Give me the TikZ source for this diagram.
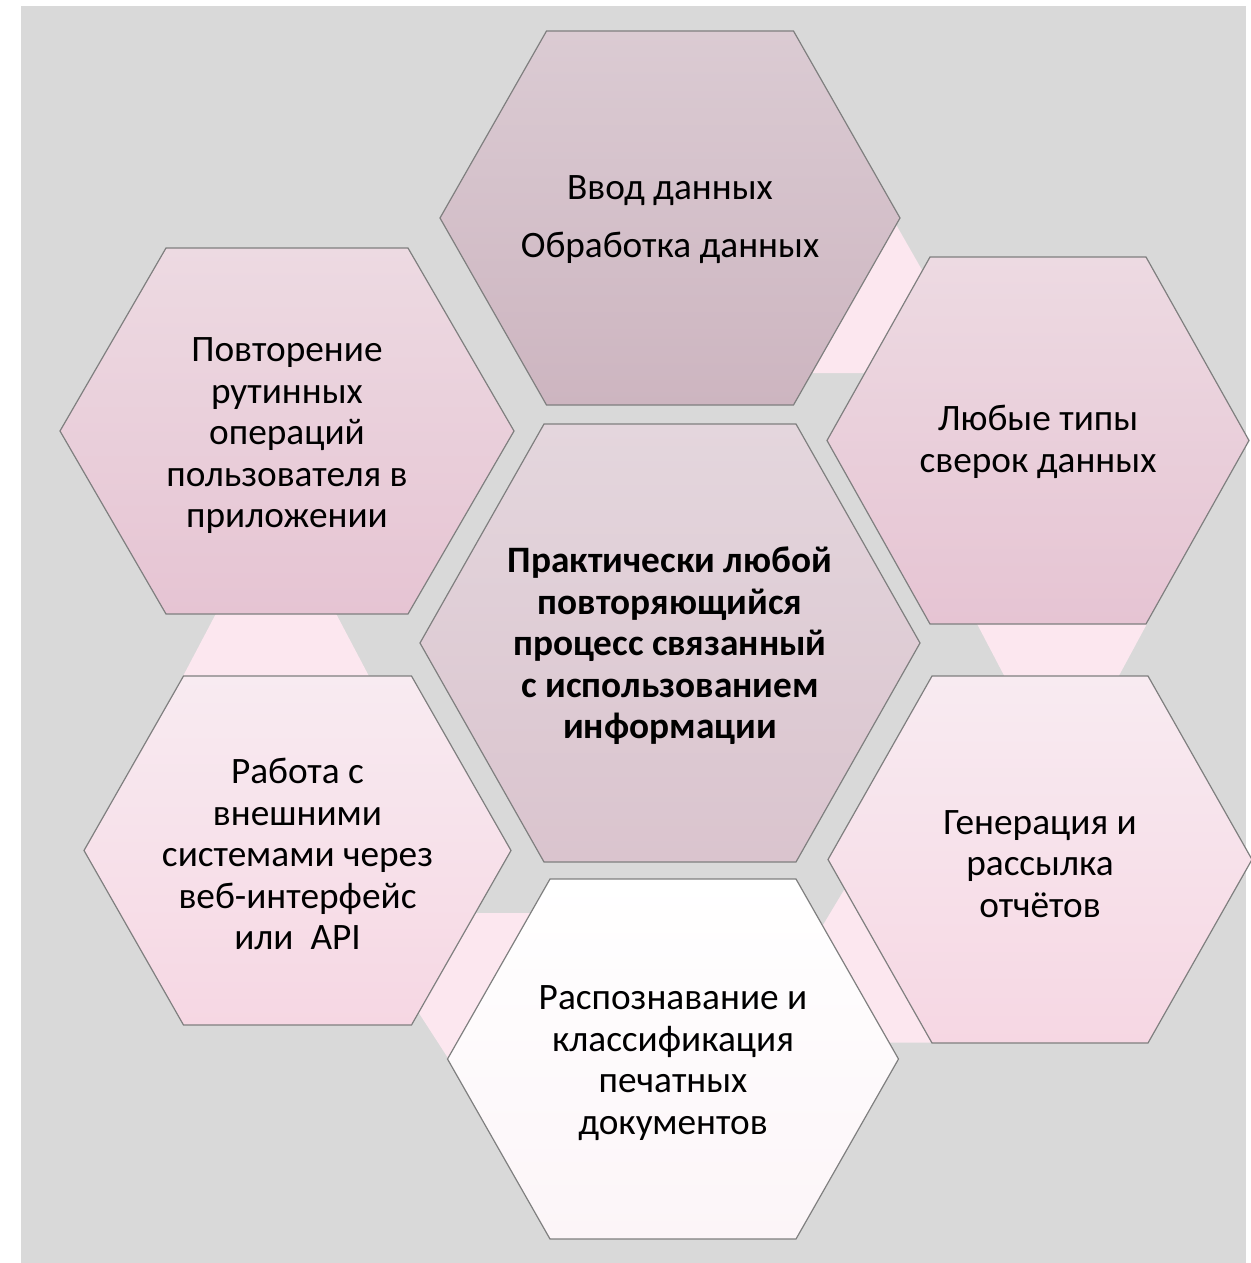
\documentclass[tikz,border=0pt]{standalone}
\usepackage{fontspec}
\setmainfont{Carlito}
\definecolor{bggray}{HTML}{D9D9D9}
\definecolor{hexgray}{HTML}{7F7F7F}
\definecolor{connpink}{HTML}{FCE7EF}
\definecolor{tTop}{HTML}{DBCBD3}
\definecolor{tBot}{HTML}{CDB5C0}
\definecolor{cTop}{HTML}{E4D6DD}
\definecolor{cBot}{HTML}{DAC4CE}
\definecolor{mTop}{HTML}{EDDAE2}
\definecolor{mBot}{HTML}{E6C4D3}
\definecolor{lTop}{HTML}{F8EBF1}
\definecolor{lBot}{HTML}{F6D7E3}
\definecolor{wTop}{HTML}{FFFFFF}
\definecolor{wBot}{HTML}{FCF5F8}
\tikzset{
  hexline/.style={draw=hexgray, line width=1.2pt, line join=miter},
  conn/.style={fill=connpink},
  txt/.style={align=center, font=\fontsize{37.3}{41.5}\selectfont, text=black, inner sep=0pt},
}
% cx cy halfTopEdge halfWidth halfHeight topcolor bottomcolor
\newcommand\hexshape[7]{%
  \path[hexline, top color=#6, bottom color=#7]
    (#1-#3,#2-#5) -- (#1+#3,#2-#5) -- (#1+#4,#2) -- (#1+#3,#2+#5)
    -- (#1-#3,#2+#5) -- (#1-#4,#2) -- cycle;}
\begin{document}
\begin{tikzpicture}[x=1pt,y=-1pt]
\useasboundingbox (0,0) rectangle (1250,1263);
\fill[bggray] (21,6) rectangle (1246,1263);
% connectors (partly hidden behind the hexagons)
\fill[conn] (840,200) -- (882,200) -- (942,305) -- (870,373) -- (800,373) -- cycle;
\fill[conn] (975,620) -- (1149,620) -- (1115,683) -- (1008,683) -- cycle;
\fill[conn] (220,606) -- (332,606) -- (371,680) -- (181,680) -- cycle;
\fill[conn] (470,913) -- (540,913) -- (520,1100) -- (459,1075) -- (404,990) -- cycle;
\fill[conn] (856,870) -- (808,950) -- (880,1042.5) -- (960,1042.5) -- (900,870) -- cycle;
% hexagons
\hexshape{670}{218}{123.5}{230}{187}{tTop}{tBot}
\hexshape{670}{643}{126}{250}{219}{cTop}{cBot}
\hexshape{287}{431}{121}{227}{183}{mTop}{mBot}
\hexshape{1038}{440.5}{108}{211}{183.5}{mTop}{mBot}
\hexshape{1040}{859.5}{108}{212}{183.5}{lTop}{lBot}
\hexshape{297.5}{850.5}{114}{213.5}{174.5}{lTop}{lBot}
\hexshape{673}{1059}{123}{225.5}{180}{wTop}{wBot}
% texts
\node[txt] (top) at (670,220) {Ввод данных\\[16.5pt]Обработка данных};
\node[txt, font=\fontsize{37.3}{41.5}\selectfont\bfseries] (center) at (670,646) {Практически любой\\повторяющийся\\процесс связанный\\с использованием\\информации};
\node[txt] (tl) at (287,436) {Повторение\\рутинных\\операций\\пользователя в\\приложении};
\node[txt] (rt) at (1038,442) {Любые типы\\сверок данных};
\node[txt] (br) at (1040,864) {Генерация и\\рассылка\\отчётов};
\node[txt] (bl) at (297.5,854) {Работа с\\внешними\\системами через\\веб-интерфейс\\или~~API};
\node[txt] (bot) at (673,1063) {Распознавание и\\классификация\\печатных\\документов};
\end{tikzpicture}
\end{document}
